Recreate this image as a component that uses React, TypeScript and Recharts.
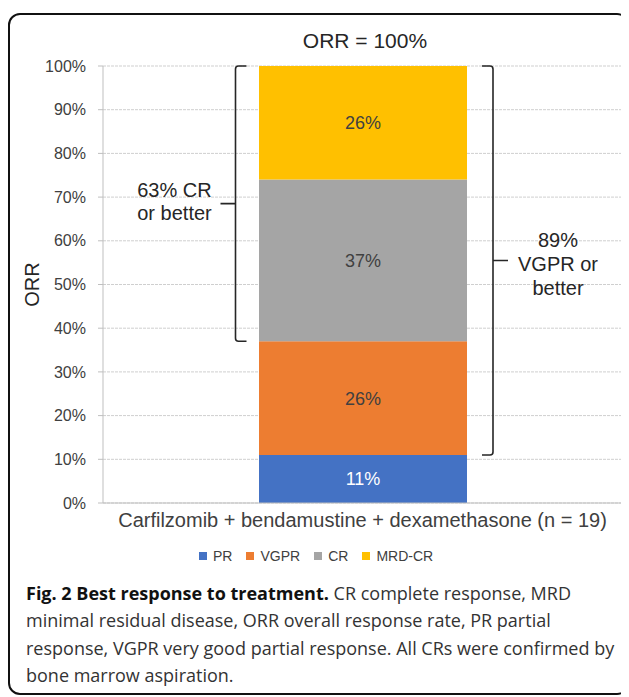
import React from 'react';
import {
  BarChart,
  Bar,
  XAxis,
  YAxis,
  CartesianGrid,
  LabelList,
  Legend,
  ReferenceLine,
} from 'recharts';

const categories = ['Carfilzomib + bendamustine + dexamethasone (n = 19)'];
const prValues = [11];
const vgprValues = [26];
const crValues = [37];
const mrdCrValues = [26];
const yTicks = [0, 10, 20, 30, 40, 50, 60, 70, 80, 90, 100];

const series = [
  { key: 'PR', name: 'PR', color: '#4472C4', label: '#ffffff' },
  { key: 'VGPR', name: 'VGPR', color: '#ED7D31', label: '#404040' },
  { key: 'CR', name: 'CR', color: '#A5A5A5', label: '#404040' },
  { key: 'MRDCR', name: 'MRD-CR', color: '#FFC000', label: '#404040' },
];

const chartData = categories.map((name, i) => ({
  name,
  PR: prValues[i],
  VGPR: vgprValues[i],
  CR: crValues[i],
  MRDCR: mrdCrValues[i],
}));

const FONT = '"Liberation Sans", Arial, sans-serif';

// bracket beside the bar: offset is px from the bar centre, hooks point toward the bar
const makeBracket = (offset: number, lines: string[], dx: number, dys: number[]) =>
  (props: any) => {
    const { x1, y1, y2 } = props;
    const top = Math.min(y1, y2);
    const bottom = Math.max(y1, y2);
    const mid = (top + bottom) / 2;
    const s = offset < 0 ? 1 : -1;
    const x = x1 + offset;
    const d =
      `M ${x + s * 11} ${top} L ${x + s * 3} ${top} Q ${x} ${top} ${x} ${top + 3} ` +
      `L ${x} ${bottom - 3} Q ${x} ${bottom} ${x + s * 3} ${bottom} L ${x + s * 11} ${bottom} ` +
      `M ${x} ${mid} L ${x - s * 15} ${mid}`;
    return (
      <g>
        <path d={d} fill="none" stroke="#262626" strokeWidth={1.6} />
        <text textAnchor="middle" fontSize={20} fill="#262626" style={{ fontFamily: FONT }}>
          {lines.map((t, i) => (
            <tspan key={i} x={x - s * dx} y={mid + dys[i]}>
              {t}
            </tspan>
          ))}
        </text>
      </g>
    );
  };

const renderLegend = (props: any) => {
  const payload = [...(props.payload || [])].sort(
    (a: any, b: any) =>
      series.findIndex((s) => s.name === a.value) - series.findIndex((s) => s.name === b.value)
  );
  return (
    <div style={{ display: 'flex', alignItems: 'center', fontFamily: FONT, fontSize: 14, color: '#404040' }}>
      {payload.map((entry: any) => (
        <div key={entry.value} style={{ display: 'flex', alignItems: 'center', marginRight: 14 }}>
          <span style={{ width: 8, height: 8, background: entry.color, display: 'inline-block', marginRight: 6 }} />
          <span>{entry.value}</span>
        </div>
      ))}
    </div>
  );
};

export default function App() {
  return (
    <div style={{ position: 'relative', width: 621, height: 689 }}>
      <div
        style={{
          position: 'absolute',
          left: 0,
          top: 5,
          width: 617,
          height: 678,
          border: '2.5px solid #111',
          borderRadius: 12,
        }}
      />
      <div
        style={{
          position: 'absolute',
          left: 0,
          width: 714,
          top: 22,
          textAlign: 'center',
          fontFamily: FONT,
          fontSize: 21,
          lineHeight: '21px',
          color: '#262626',
        }}
      >
        ORR = 100%
      </div>
      <div style={{ position: 'absolute', left: 0, top: 0 }}>
        <BarChart
          width={620}
          height={570}
          data={chartData}
          margin={{ top: 58, right: 6, left: 5, bottom: 50 }}
          style={{ fontFamily: FONT }}
        >
          <CartesianGrid vertical={false} stroke="#cfcfcf" strokeDasharray="3 1" />
          <XAxis
            dataKey="name"
            tickLine={false}
            tickSize={6}
            tickMargin={4}
            height={25}
            axisLine={{ stroke: '#bfbfbf' }}
            tick={{ fill: '#404040', fontSize: 20 }}
            interval={0}
          />
          <YAxis
            type="number"
            domain={[0, 100]}
            ticks={yTicks}
            width={90}
            tickSize={5}
            tickMargin={12}
            tickFormatter={(v: number) => `${v}%`}
            axisLine={{ stroke: '#bfbfbf' }}
            tickLine={{ stroke: '#bfbfbf' }}
            tick={{ fill: '#404040', fontSize: 16 }}
            label={{
              value: 'ORR',
              angle: -90,
              position: 'insideLeft',
              offset: 19,
              fill: '#262626',
              fontSize: 20,
              style: { textAnchor: 'middle' },
            }}
          />
          <Legend
            layout="horizontal"
            verticalAlign="middle"
            align="center"
            content={renderLegend}
            wrapperStyle={{ top: 540, left: 191, width: 320 }}
          />
          {series.map((s) => (
            <Bar
              key={s.key}
              dataKey={s.key}
              name={s.name}
              stackId="a"
              fill={s.color}
              barSize={208}
              isAnimationActive={false}
            >
              <LabelList
                dataKey={s.key}
                position="center"
                formatter={(v: any) => `${v}%`}
                fill={s.label}
                fontSize={18}
              />
            </Bar>
          ))}
          <ReferenceLine
            ifOverflow="visible"
            segment={[
              { x: categories[0], y: 100 },
              { x: categories[0], y: prValues[0] + vgprValues[0] },
            ]}
            shape={makeBracket(-127, ['63% CR', 'or better'], 61, [-7, 16])}
          />
          <ReferenceLine
            ifOverflow="visible"
            segment={[
              { x: categories[0], y: 100 },
              { x: categories[0], y: prValues[0] },
            ]}
            shape={makeBracket(130.5, ['89%', 'VGPR or', 'better'], 65, [-13, 11, 35])}
          />
        </BarChart>
      </div>
      <div
        style={{
          position: 'absolute',
          left: 18,
          top: 572,
          fontFamily: '"Open Sans", "Noto Sans", sans-serif',
          fontSize: 18,
          lineHeight: '27.4px',
          color: '#333',
          whiteSpace: 'nowrap',
        }}
      >
        <b style={{ color: '#111', fontWeight: 700 }}>Fig. 2 Best response to treatment.</b> CR complete response, MRD
        <br />
        minimal residual disease, ORR overall response rate, PR partial
        <br />
        response, VGPR very good partial response. All CRs were confirmed by
        <br />
        bone marrow aspiration.
      </div>
    </div>
  );
}
